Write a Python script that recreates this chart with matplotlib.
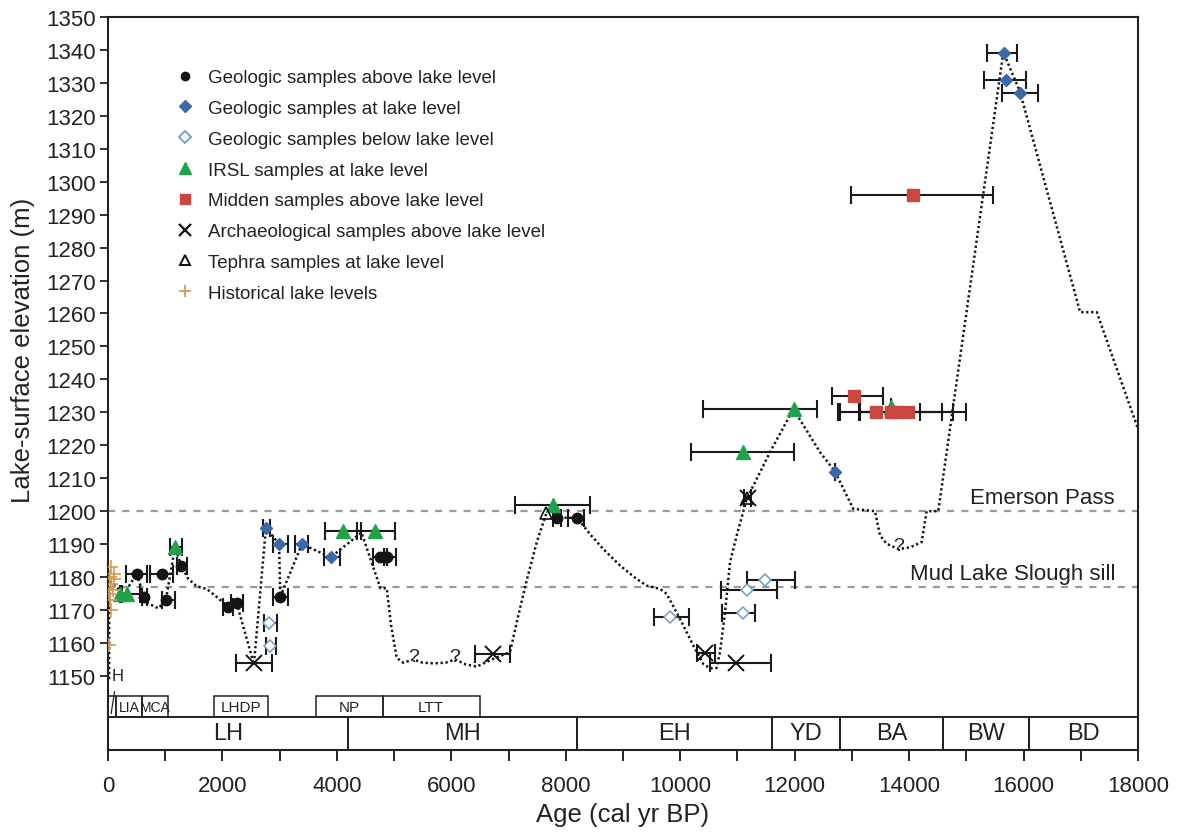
import matplotlib
matplotlib.use("Agg")
import matplotlib.pyplot as plt
from matplotlib.lines import Line2D
from matplotlib.patches import Rectangle
from matplotlib.ticker import MultipleLocator, FixedLocator
import numpy as np

plt.rcParams['font.family'] = ['Liberation Sans', 'DejaVu Sans']

# ---------------- data ----------------
# Geologic samples above lake level (black circles)
geo_above_x = [500, 630, 950, 1010, 1280, 2100, 2250, 3010, 4760, 4820, 4880, 7840, 8200]
geo_above_y = [1181, 1174, 1181, 1173, 1183.5, 1171, 1172, 1174, 1186, 1186, 1186, 1198, 1198]
geo_above_lo = [320, 590, 730, 940, 1200, 2010, 2150, 2880, 4630, 4820, 4880, 7780, 8040]
geo_above_hi = [680, 690, 1140, 1170, 1380, 2180, 2360, 3150, 5030, 4820, 4880, 7920, 8320]

# Geologic samples at lake level (blue diamonds)
geo_at_x = [2760, 2990, 3390, 3890, 12700, 15650, 15700, 15940]
geo_at_y = [1195, 1190, 1190, 1186, 1212, 1339, 1331, 1327]
geo_at_lo = [2700, 2880, 3270, 3780, 12700, 15360, 15300, 15620]
geo_at_hi = [2830, 3150, 3490, 4060, 12700, 15880, 16040, 16260]

# Geologic samples below lake level (open diamonds)
geo_below_x = [2820, 2830, 9830, 11090, 11160, 11490]
geo_below_y = [1166, 1159, 1168, 1169, 1176, 1179]
geo_below_lo = [2730, 2760, 9540, 10730, 10710, 11160]
geo_below_hi = [2950, 2940, 10150, 11310, 11690, 12010]

# IRSL samples at lake level (green triangles)
irsl_x = [210, 330, 1170, 4110, 4670, 7770, 11090, 11980, 13680]
irsl_y = [1175, 1175, 1189, 1194, 1194, 1202, 1218, 1231, 1231.5]
irsl_lo = [210, 250, 1090, 3790, 4350, 7110, 10190, 10390, 13680]
irsl_hi = [210, 560, 1290, 4430, 5020, 8420, 11990, 12390, 13680]

# Midden samples above lake level (red squares)
midden_x = [13040, 14060, 13420, 13680, 13780, 13980]
midden_y = [1235, 1296, 1230, 1230, 1230, 1230]
midden_lo = [12660, 12980, 12790, 13130, 13150, 12760]
midden_hi = [13540, 15470, 14190, 14570, 14770, 14990]

# Archaeological samples above lake level (X)
arch_x = [2550, 6730, 10430, 10980, 11180]
arch_y = [1154, 1156.5, 1157, 1154, 1204]
arch_lo = [2240, 6410, 10300, 10520, 11120]
arch_hi = [2870, 7030, 10600, 11590, 11240]

# Tephra samples at lake level (open triangles)
tephra_x = [7650, 11170]
tephra_y = [1199.5, 1204]

# Historical lake levels (+)
hist_x = [60, 100, 30, 110, 50, 80, 20, 40, 60, 20]
hist_y = [1183, 1181, 1180, 1179.5, 1178, 1176, 1175, 1173, 1170, 1159.5]

# Reconstructed lake-level curve (dotted)
curve_x = [20, 20, 100, 270, 500, 630, 700, 880, 1010, 1170, 1280, 1400, 1550, 1725, 1870,
           2100, 2250, 2550, 2760, 2990, 3010, 3390, 3890, 4430, 4760, 4870, 4950, 5045,
           5160, 5336, 5500, 5700, 5900, 6064, 6250, 6443, 6734, 7026, 7143, 7317, 7500,
           7667, 7770, 7840, 8200, 8424, 8656, 8948, 9239, 9414, 9647, 9763, 9996, 10229,
           10404, 10521, 10637, 10695, 10783, 10870, 10987, 11162, 11569, 11977, 12443,
           12706, 12910, 13025, 13404, 13492, 13608, 13812, 14016, 14219, 14306, 14510,
           15647, 15938, 16988, 17279, 18000]
curve_y = [1149, 1179, 1178, 1174.5, 1181, 1174, 1172, 1170.5, 1173, 1189, 1183.5, 1179.5,
           1177.2, 1176.4, 1174.4, 1171, 1172, 1153.5, 1195, 1190, 1174, 1190, 1186, 1193.5,
           1176.6, 1176.6, 1165, 1155.5, 1154, 1155, 1154, 1153.8, 1154, 1155, 1153.5,
           1152.8, 1155.2, 1157.2, 1166.3, 1179, 1191, 1199.7, 1201, 1198, 1198, 1193,
           1188.5, 1183.5, 1179.4, 1177.4, 1176.4, 1174.9, 1167.3, 1159.2, 1153.6, 1152.3,
           1152.4, 1157.2, 1169.3, 1184.5, 1192.6, 1203.7, 1217.9, 1231, 1217.9, 1212,
           1204.7, 1200.7, 1200, 1192.6, 1190.1, 1188.5, 1189, 1190.6, 1200, 1200, 1339.3,
           1327.3, 1260.4, 1260.4, 1225]

# Threshold levels
sill_levels = [1200, 1177]
sill_names = ["Emerson Pass", "Mud Lake Slough sill"]

# Question marks on the curve
qmark_x = [5336, 6064, 13812]
qmark_y = [1156, 1156, 1189.5]

# Climate periods
period_names = ["LH", "MH", "EH", "YD", "BA", "BW", "BD"]
period_start = [0, 4200, 8200, 11600, 12800, 14600, 16100]
period_end = [4200, 8200, 11600, 12800, 14600, 16100, 18000]

event_names = ["", "LIA", "MCA", "LHDP", "NP", "LTT"]
event_start = [0, 140, 600, 1850, 3640, 4800]
event_end = [140, 600, 1050, 2800, 4800, 6500]

# ---------------- colours ----------------
C_BLUE = '#3b69a8'
C_OPEN = '#6f9cc8'
C_GREEN = '#1fa24a'
C_RED = '#c9473e'
C_ORANGE = '#d69c52'
C_GRAY = '#9a9a9a'
C_TXT = '#222222'

W, H = 1181, 837
fig = plt.figure(figsize=(W / 100, H / 100), dpi=100)
ax = fig.add_axes([108 / W, 1 - 751 / H, 1030 / W, 733 / H])

YMIN, YMAX = 1127.5, 1350
ax.set_xlim(0, 18000)
ax.set_ylim(YMIN, YMAX)

# dashed sill lines
for lvl, name in zip(sill_levels, sill_names):
    ax.plot([0, 18000], [lvl, lvl], color=C_GRAY, lw=1.6, ls=(0, (3.2, 3.2)), zorder=1)
    ax.text(17600, lvl + 0.9, name, ha='right', va='bottom', fontsize=16, color=C_TXT)

# lake-level curve
ax.plot(curve_x, curve_y, color='#111111', lw=1.8, ls=(0, (0.9, 1.1)), zorder=2)

def ebar(x, y, lo, hi):
    x = np.asarray(x, float)
    err = np.vstack([x - np.asarray(lo, float), np.asarray(hi, float) - x])
    ax.errorbar(x, y, xerr=err, fmt='none', ecolor='#1a1a1a', elinewidth=1.5,
                capsize=6.5, capthick=1.5, zorder=3)

ebar(geo_above_x, geo_above_y, geo_above_lo, geo_above_hi)
ebar(geo_at_x, geo_at_y, geo_at_lo, geo_at_hi)
ebar(geo_below_x, geo_below_y, geo_below_lo, geo_below_hi)
ebar(irsl_x, irsl_y, irsl_lo, irsl_hi)
ebar(midden_x, midden_y, midden_lo, midden_hi)
ebar(arch_x, arch_y, arch_lo, arch_hi)

ax.plot(geo_below_x, geo_below_y, 'D', ms=6.5, mfc='white', mec=C_OPEN, mew=1.1, zorder=4)
ax.plot(geo_above_x, geo_above_y, 'o', ms=7.5, color='#141414', zorder=4)
ax.plot(geo_at_x, geo_at_y, 'D', ms=6.5, color=C_BLUE, zorder=4)
ax.plot(irsl_x, irsl_y, '^', ms=10, color=C_GREEN, zorder=4)
ax.plot(midden_x, midden_y, 's', ms=8.5, color=C_RED, zorder=5)
ax.plot(arch_x, arch_y, 'x', ms=11, color='#111111', mew=1.4, zorder=5)
ax.plot(tephra_x, tephra_y, '^', ms=8, mfc='none', mec='#111111', mew=1.2, zorder=5)
ax.plot(hist_x, hist_y, '+', ms=10, color=C_ORANGE, mew=1.2, zorder=5)

for qx, qy in zip(qmark_x, qmark_y):
    ax.text(qx, qy, '?', ha='center', va='center', fontsize=14, color=C_TXT, zorder=6)

# period boxes
row_main = (YMIN, 1137.6)
row_top = (1137.6, 1144.0)
for name, s, e in zip(period_names, period_start, period_end):
    ax.add_patch(Rectangle((s, row_main[0]), e - s, row_main[1] - row_main[0],
                           fill=False, ec='#222222', lw=1.4, zorder=6, clip_on=False))
    ax.text((s + e) / 2, (row_main[0] + row_main[1]) / 2, name, ha='center', va='center',
            fontsize=17, color=C_TXT)
for name, s, e in zip(event_names, event_start, event_end):
    ax.add_patch(Rectangle((s, row_top[0]), e - s, row_top[1] - row_top[0],
                           fill=False, ec='#222222', lw=1.1, zorder=6, clip_on=False))
    fs = 10 if name in ("LIA", "MCA") else 11
    ax.text((s + e) / 2, (row_top[0] + row_top[1]) / 2 - 0.2, name, ha='center', va='center',
            fontsize=fs, color=C_TXT)
ax.plot([55, 115], [1138.6, 1145.2], color='#222222', lw=0.9, zorder=6, clip_on=False)
ax.text(170, 1150, 'H', ha='center', va='center', fontsize=12, color=C_TXT)

# axes styling
for sp in ax.spines.values():
    sp.set_linewidth(1.5)
    sp.set_color('#222222')
ax.xaxis.set_major_locator(MultipleLocator(2000))
ax.xaxis.set_minor_locator(MultipleLocator(1000))
ax.yaxis.set_major_locator(FixedLocator(np.arange(1150, 1351, 10)))
ax.tick_params(axis='x', which='both', direction='out', length=8, width=1.4,
               labelsize=16, pad=10, colors='#222222')
ax.tick_params(axis='y', which='major', direction='out', length=6, width=1.3,
               labelsize=16, pad=3, colors='#222222')
ax.xaxis.set_major_formatter(plt.FuncFormatter(lambda v, p: f"{int(v)}"))

fig.text(623 / W, 1 - 815 / H, 'Age (cal yr BP)', ha='center', va='center',
         fontsize=18.5, color=C_TXT)
fig.text(23 / W, 1 - 350 / H, 'Lake-surface elevation (m)', ha='center', va='center',
         rotation=90, fontsize=18.5, color=C_TXT)

# legend
handles = [
    Line2D([], [], ls='none', marker='o', ms=6, color='#141414'),
    Line2D([], [], ls='none', marker='D', ms=6.5, color=C_BLUE),
    Line2D([], [], ls='none', marker='D', ms=6.5, mfc='white', mec=C_OPEN, mew=1.3),
    Line2D([], [], ls='none', marker='^', ms=8, color=C_GREEN),
    Line2D([], [], ls='none', marker='s', ms=7, color=C_RED),
    Line2D([], [], ls='none', marker='x', ms=8, color='#111111', mew=1.6),
    Line2D([], [], ls='none', marker='^', ms=7, mfc='white', mec='#111111', mew=1.4),
    Line2D([], [], ls='none', marker='+', ms=9, color=C_ORANGE, mew=1.3),
]
labels = ["Geologic samples above lake level", "Geologic samples at lake level",
          "Geologic samples below lake level", "IRSL samples at lake level",
          "Midden samples above lake level", "Archaeological samples above lake level",
          "Tephra samples at lake level", "Historical lake levels"]
leg = ax.legend(handles, labels, loc='upper left',
                bbox_to_anchor=((175.6 - 108) / 1030, 1 - (70 - 18) / 733),
                frameon=False, fontsize=13.5, handlelength=1.0, handletextpad=0.73,
                labelspacing=0.73, borderpad=0, borderaxespad=0)
for t in leg.get_texts():
    t.set_color(C_TXT)

fig.savefig('out.png', dpi=100, facecolor='white')
